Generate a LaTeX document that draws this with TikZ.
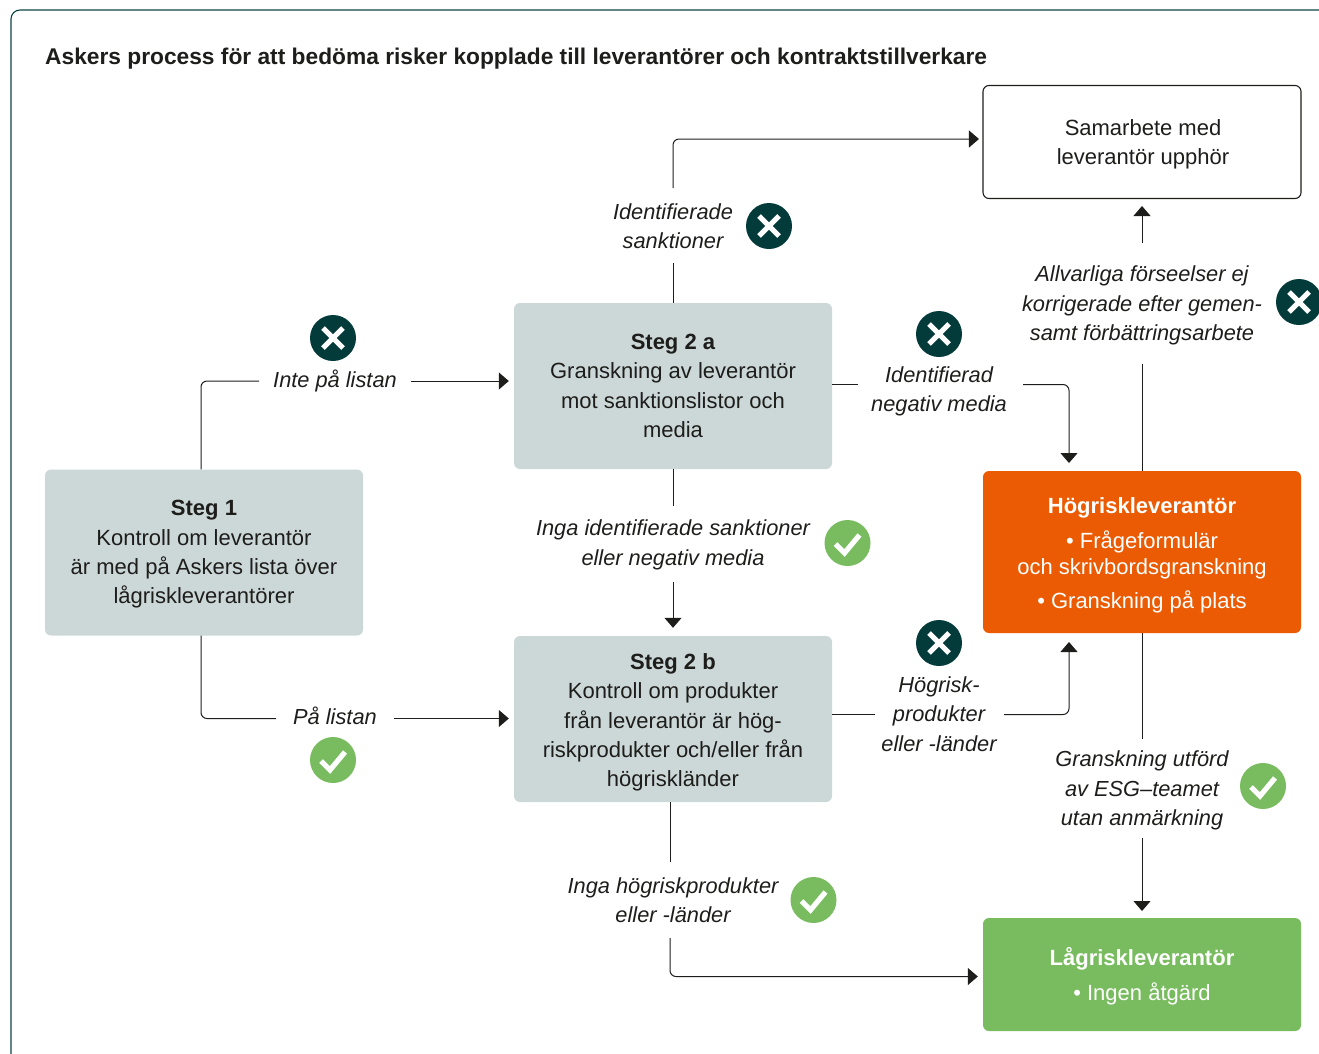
\documentclass[tikz,border=0pt]{standalone}
\usepackage{fontspec}
\setmainfont{Liberation Sans}
\usetikzlibrary{arrows.meta,calc}
\definecolor{dark}{HTML}{033B3B}
\definecolor{boxg}{HTML}{CCD8D7}
\definecolor{orangeb}{HTML}{EA5B03}
\definecolor{greenb}{HTML}{79BC5F}
\definecolor{ink}{HTML}{1D1D1B}
\definecolor{frameg}{HTML}{0A4440}
\tikzset{
  x=1pt,y=-1pt,
  every node/.style={text=ink,font=\fontsize{22}{29.3}\selectfont,align=center,inner sep=0pt},
  stepbox/.style={fill=boxg,rounded corners=6pt,minimum width=318pt,minimum height=166pt},
  whitebox/.style={draw=ink,line width=1.1pt,rounded corners=6pt,minimum width=318pt,minimum height=113pt},
  lab/.style={font=\fontsize{21.8}{29.3}\selectfont\itshape},
  conn/.style={draw=ink,line width=1pt,rounded corners=6pt},
  arr/.style={conn,-{Triangle[length=10pt,width=17pt]}},
  bad/.style={circle,fill=dark,minimum size=46pt,path picture={
    \draw[white,line width=5.2pt] ($(path picture bounding box.center)+(-10,-10)$) -- ($(path picture bounding box.center)+(10,10)$);
    \draw[white,line width=5.2pt] ($(path picture bounding box.center)+(-10,10)$) -- ($(path picture bounding box.center)+(10,-10)$);}},
  good/.style={circle,fill=greenb,minimum size=46pt,path picture={
    \draw[white,line width=5.2pt] ($(path picture bounding box.center)+(-12,1)$) -- ($(path picture bounding box.center)+(-3,10)$) -- ($(path picture bounding box.center)+(12,-8)$);}},
}
\begin{document}
\begin{tikzpicture}
\useasboundingbox (0,0) rectangle (1319,1053);
\begin{scope}
\clip (0,0) rectangle (1319,1053);
\draw[frameg,line width=1.1pt,rounded corners=9pt] (1340,10) -- (11,10) -- (11,1080);
\end{scope}
\node[anchor=west,font=\fontsize{22.75}{26}\selectfont\bfseries] (title) at (45,58.5) {Askers process för att bedöma risker kopplade till leverantörer och kontraktstillverkare};

% boxes
\node[stepbox] (s1) at (204,552.5) {};
\node[yshift=-2pt] (s1t) at (204,552.5) {\textbf{Steg 1}\\Kontroll om leverantör\\är med på Askers lista över\\lågriskleverantörer};
\node[stepbox] (s2a) at (673,386) {};
\node (s2at) at (673,386) {\textbf{Steg 2 a}\\Granskning av leverantör\\mot sanktionslistor och\\media};
\node[stepbox] (s2b) at (673,719) {};
\node[yshift=-3.5pt] (s2bt) at (673,719) {\textbf{Steg 2 b}\\Kontroll om produkter\\från leverantör är hög-\\riskprodukter och/eller från\\högriskländer};
\node[whitebox] (stop) at (1142,142) {};
\node[yshift=-2pt] (stopt) at (1143,142) {Samarbete med\\leverantör upphör};
\node[stepbox,fill=orangeb,minimum height=162pt] (high) at (1142,552) {};
\node[yshift=-3pt] (hight) at (1142,552) {\textcolor{white}{\textbf{Högriskleverantör}}\\[6pt]\textcolor{white}{• Frågeformulär}\\[-3pt]\textcolor{white}{och skrivbordsgranskning}\\[4.5pt]\textcolor{white}{• Granskning på plats}};
\node[stepbox,fill=greenb,minimum height=113pt] (low) at (1142,974.5) {};
\node[yshift=-2pt] (lowt) at (1142,974.5) {\textcolor{white}{\textbf{Lågriskleverantör}}\\[6pt]\textcolor{white}{• Ingen åtgärd}};

% labels
\node[lab] (l1) at (335,380.5) {Inte på listan};
\node[lab] (l2) at (335,716) {På listan};
\node[lab] (l3) at (673,226) {Identifierade\\sanktioner};
\node[lab] (l4) at (939,391.5) {Identifierad\\negativ media};
\node[lab] (l5) at (673,545) {Inga identifierade sanktioner\\eller negativ media};
\node[lab] (l6) at (939,714) {Högrisk-\\produkter\\eller -länder};
\node[lab] (l7) at (673,900) {Inga högriskprodukter\\eller -länder};
\node[lab] (l8) at (1142,305.5) {Allvarliga förseelser ej\\korrigerade efter gemen-\\samt förbättringsarbete};
\node[lab] (l9) at (1142,790.5) {Granskning utförd\\av ESG–teamet\\utan anmärkning};

% icons
\node[bad] (i1) at (333,338) {};
\node[good] (i2) at (333,760) {};
\node[bad] (i3) at (769,226) {};
\node[bad] (i4) at (939,334) {};
\node[good] (i5) at (847.5,543) {};
\node[bad] (i6) at (939,643) {};
\node[good] (i7) at (813.5,900) {};
\node[bad] (i8) at (1299,302) {};
\node[good] (i9) at (1263,786) {};

% gap ends
\coordinate (a1) at (259,381); \coordinate (a2) at (411,381);
\coordinate (b1) at (276,718.5); \coordinate (b2) at (394,718.5);
\coordinate (c1) at (673,263); \coordinate (c2) at (673,188);
\coordinate (d1) at (858,384.5); \coordinate (d2) at (1023,384.5);
\coordinate (e1) at (673,506); \coordinate (e2) at (673,582);
\coordinate (f1) at (875,714.5); \coordinate (f2) at (1004,714.5);
\coordinate (g1) at (670,862); \coordinate (g2) at (670,938);
\coordinate (h1) at (1142,364); \coordinate (h2) at (1142,243);
\coordinate (j1) at (1142,739); \coordinate (j2) at (1142,838);

% connectors
\draw[conn] (s1.north -| 201,0) -- (201,381) -- (a1);
\draw[arr,shorten >=5pt] (a2) -- (s2a.west |- a2);
\draw[conn] (s1.south -| 201,0) -- (201,718.5) -- (b1);
\draw[arr,shorten >=5pt] (b2) -- (s2b.west |- b2);
\draw[conn] (s2a.north) -- (c1);
\draw[arr,shorten >=3.5pt] (c2) -- (673,139) -- (stop.west |- 0,139);
\draw[conn] (s2a.east |- d1) -- (d1);
\draw[arr] (d2) -- (1069,384.5) -- (1069,463);
\draw[conn] (s2a.south) -- (e1);
\draw[arr,shorten >=8pt] (e2) -- (s2b.north);
\draw[conn] (s2b.east |- f1) -- (f1);
\draw[arr] (f2) -- (1069,714.5) -- (1069,642);
\draw[conn] (s2b.south -| 670,0) -- (g1);
\draw[arr,shorten >=5pt] (g2) -- (670,976.5) -- (low.west |- 0,976.5);
\draw[conn] (high.north) -- (h1);
\draw[arr] (h2) -- (1142,206);
\draw[conn] (high.south) -- (j1);
\draw[arr] (j2) -- (1142,911);
\end{tikzpicture}
\end{document}
